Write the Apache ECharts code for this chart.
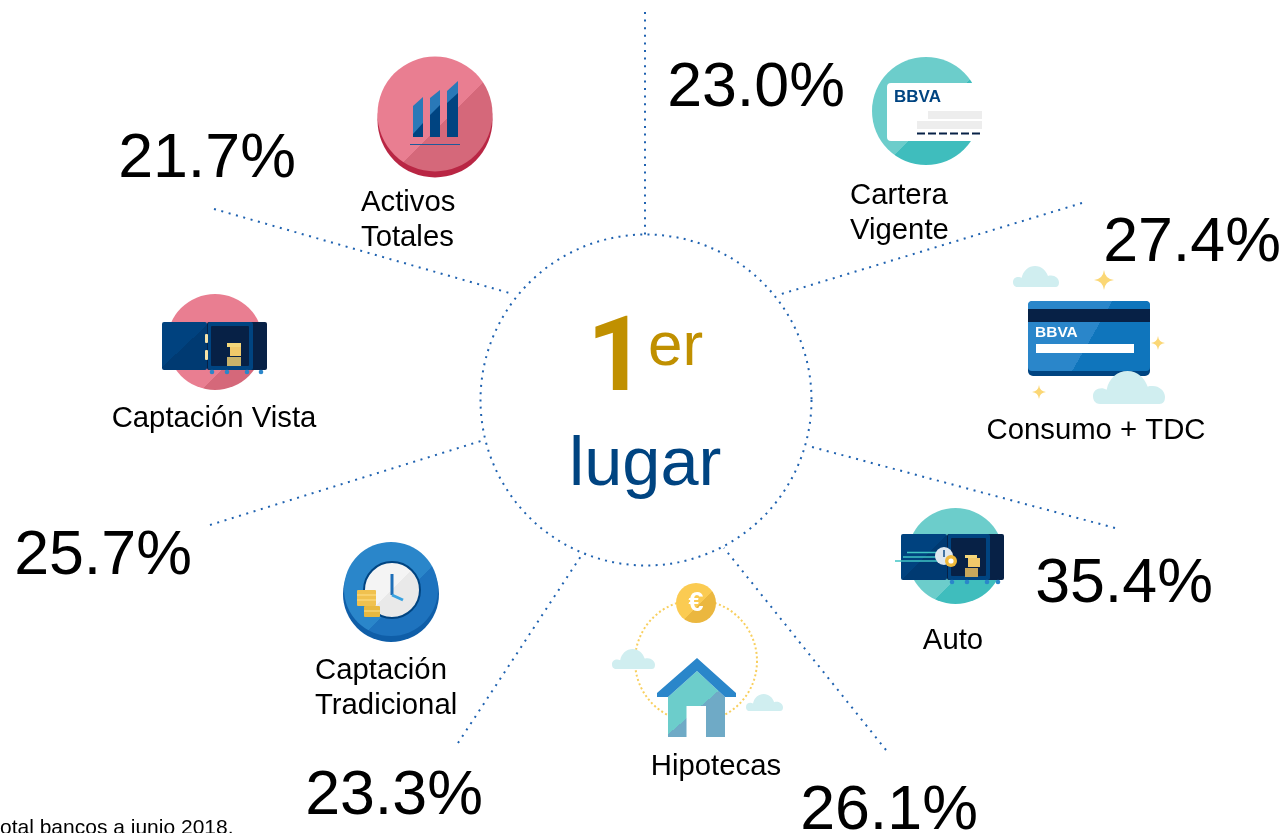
<!DOCTYPE html>
<html>
<head>
<meta charset="utf-8">
<title>1er lugar</title>
<script src="https://cdn.jsdelivr.net/npm/echarts@6/dist/echarts.min.js"></script>
<style>
html, body { margin: 0; padding: 0; background: #fff; overflow: hidden; }
#chart { width: 1288px; height: 833px; }
</style>
</head>
<body>
<div id="chart"></div>
<script>
var categories = ['Activos\nTotales', 'Cartera\nVigente', 'Consumo + TDC', 'Auto', 'Hipotecas', 'Captación\nTradicional', 'Captación Vista'];
var shares = [21.7, 23.0, 27.4, 35.4, 26.1, 23.3, 25.7];
var rank = '1';
var rankSuffix = 'er';
var rankWord = 'lugar';
var footnote = 'otal bancos a junio 2018.';

// layout, pixels
var sharePos = [[207, 160], [756, 89], [1192, 244], [1124, 585], [889, 812], [394, 797], [103, 557]];
var labelPos = [[361, 220], [850, 213], [1096, 431], [953, 641], [716, 767], [315, 688], [214, 419]];
var labelAlign = ['left', 'left', 'center', 'center', 'center', 'left', 'center'];
var rays = [
	[[645, 12], [645, 235]],
	[[1082, 203], [778, 295]],
	[[1115, 528], [812, 447]],
	[[886, 750], [724, 548]],
	[[458, 743], [583, 553]],
	[[210, 525], [484, 440]],
	[[214, 209], [513, 294]]
];

var FONT = '"Liberation Sans", Arial, sans-serif';
var DOT = '#1f62b0';
var NAVY = '#004481', INK = '#072146', BLUE = '#2a86ca', CLOUD_C = '#d0eef0';
var PINK = ['#e97e91', '#d5687a'], TEAL = ['#6ccdcb', '#3fbdbd'];

// graphic has no plain path type, so register the two outlines
echarts.graphic.registerShape('cloud', echarts.graphic.extendPath('M10 46C2 46 0 40 0 35C0 28 5 24 12 24C14 24 17 25 19 26C22 10 34 0 48 0C62 0 72 10 76 22C78 21 80 21 83 21C92 21 100 28 100 36C100 42 98 46 92 46Z', {}));
echarts.graphic.registerShape('star4', echarts.graphic.extendPath('M50 0Q55 45 100 50Q55 55 50 100Q45 55 0 50Q45 45 50 0Z', {}));

// hard diagonal split, light upper left / dark lower right
function split(a, b, t) {
	return { type: 'linear', x: 0, y: 0, x2: 1, y2: 1, colorStops: [
		{ offset: 0, color: a }, { offset: t, color: a }, { offset: t, color: b }, { offset: 1, color: b }
	] };
}
function circle(cx, cy, r, fill) {
	return { type: 'circle', shape: { cx: cx, cy: cy, r: r }, style: { fill: fill } };
}
function rect(x, y, w, h, fill, rad) {
	return { type: 'rect', shape: { x: x, y: y, width: w, height: h, r: rad || 0 }, style: { fill: fill } };
}
function poly(points, fill) {
	return { type: 'polygon', shape: { points: points }, style: { fill: fill } };
}
function line(x1, y1, x2, y2, color, w, dash) {
	return { type: 'line', shape: { x1: x1, y1: y1, x2: x2, y2: y2 }, style: { stroke: color, lineWidth: w, lineDash: dash || null } };
}
function cloud(x, y, w, h) {
	return { type: 'cloud', x: x, y: y, scaleX: w / 100, scaleY: h / 46, style: { fill: CLOUD_C } };
}
function star(x, y, s) {
	return { type: 'star4', x: x - s / 2, y: y - s / 2, scaleX: s / 100, scaleY: s / 100, style: { fill: '#fbd775' } };
}
function text(s, x, y, size, color, weight, align, family) {
	return { type: 'text', x: x, y: y, style: {
		text: s, fontSize: size, fontFamily: family || FONT, fontWeight: weight || 'normal', fill: color,
		textAlign: align || 'left', textVerticalAlign: 'middle'
	} };
}

function vault(x, y, doorW, bodyW, h) {
	var r = x + doorW + bodyW;
	return [
		rect(x, y, doorW, h, split('#00427f', '#003a72', 0.5), 2),
		rect(x + doorW, y, bodyW, h, INK, 2),
		rect(x + doorW + 1, y, bodyW - 15, h, NAVY, 2),
		rect(x + doorW + 4, y + 4, bodyW - 22, h - 8, INK, 1),
		circle(x + doorW + 5, y + h + 2, 2.3, BLUE),
		circle(x + doorW + 20, y + h + 2, 2.3, BLUE),
		circle(x + doorW + 40, y + h + 2, 2.3, BLUE),
		circle(r - 6, y + h + 2, 2.3, BLUE)
	];
}

var art = [].concat(
	// center ring
	[{ type: 'circle', shape: { cx: 646, cy: 400, r: 165.5 }, style: { fill: 'none', stroke: DOT, lineWidth: 2, lineDash: [2, 5.3] } }],

	// Activos Totales
	[
		circle(435, 120, 57.5, '#b92644'),
		circle(435, 114, 57.5, split(PINK[0], PINK[1], 0.57)),
		poly([[413, 106], [423, 97], [423, 137], [413, 137]], '#2a79b8'),
		poly([[413, 134], [423, 123], [423, 137], [413, 137]], NAVY),
		poly([[430, 98], [440, 90], [440, 137], [430, 137]], '#2a79b8'),
		poly([[430, 115], [440, 105], [440, 137], [430, 137]], NAVY),
		poly([[447, 91], [458, 81], [458, 137], [447, 137]], '#2a79b8'),
		poly([[447, 103], [458, 93], [458, 137], [447, 137]], NAVY),
		line(410, 144.5, 460, 144.5, '#1f5a9a', 1)
	],

	// Cartera Vigente
	[
		circle(926, 111, 54, split(TEAL[0], TEAL[1], 0.56)),
		rect(887, 83, 95, 58, '#fff', 4),
		text('BBVA', 894, 97, 17, NAVY, 'bold'),
		rect(928, 111, 54, 8, '#ededed'),
		rect(917, 121, 65, 8, '#ededed'),
		line(917, 133.5, 982, 133.5, INK, 2, [8, 3])
	],

	// Consumo + TDC
	[
		cloud(1013, 266, 46, 21),
		star(1104, 280, 20),
		star(1158, 343, 14),
		star(1039, 392, 14),
		rect(1028, 301, 122, 75, NAVY, 5),
		rect(1028, 301, 122, 70, split(BLUE, '#0f75bc', 0.52), 4),
		rect(1028, 309, 122, 13, INK),
		text('BBVA', 1035, 333, 15.5, '#fff', 'bold'),
		rect(1036, 344, 98, 9, '#fff'),
		cloud(1093, 371, 72, 33)
	],

	// Auto
	[circle(955.5, 556, 48, split(TEAL[0], TEAL[1], 0.62))],
	vault(901, 534, 46, 57, 46),
	[
		line(907, 552.5, 944, 552.5, '#3fc4c4', 1.6),
		line(903, 557, 944, 557, '#3fc4c4', 1.6),
		line(895, 561, 946, 561, '#3fc4c4', 1.6),
		circle(944, 556, 9, '#dfe8ef'),
		line(944, 550, 944, 557, NAVY, 1.4),
		circle(951, 561, 6, '#f0b93a'),
		circle(951, 561, 2.6, '#fff'),
		rect(965, 555, 12, 3, '#f3d77b'),
		rect(968, 558, 12, 9, '#f0c96a'),
		rect(965, 568, 13, 9, '#c8a85c')
	],

	// Hipotecas
	[
		{ type: 'circle', shape: { cx: 696, cy: 661, r: 61 }, style: { fill: 'none', stroke: '#f8cf5e', lineWidth: 2, lineDash: [2, 2.5] } },
		circle(696, 603, 20, split('#fbcb52', '#ebb73f', 0.55)),
		text('€', 696, 604, 27, '#fff', 'bold', 'center'),
		poly([[668, 697], [697, 671], [725, 697], [725, 737], [668, 737]], split('#6ccdcb', '#6faac6', 0.55)),
		rect(686.5, 706, 19.5, 32, '#fff'),
		poly([[697, 658], [736, 693], [736, 697], [725, 697], [697, 671], [668, 697], [657, 697], [657, 693]], BLUE),
		cloud(612, 649, 43, 20),
		cloud(746, 694, 37, 17)
	],

	// Captacion Tradicional
	[
		circle(391, 594, 48, '#0f5ea8'),
		circle(391, 589, 47, split(BLUE, '#1e73be', 0.6)),
		{ type: 'circle', shape: { cx: 392, cy: 590, r: 28 }, style: { fill: split('#f4f4f4', '#e9e9e9', 0.5), stroke: NAVY, lineWidth: 2 } },
		line(392, 574, 392, 595, '#1e6fb8', 3),
		line(392, 595, 403, 600, '#3aa2e0', 3),
		rect(357, 590, 19, 16, '#f0c14f', 1),
		rect(364, 606, 16, 11, '#e8b83f', 1),
		line(357, 595, 376, 595, '#ffe08a', 1),
		line(357, 600, 376, 600, '#ffe08a', 1),
		line(364, 611, 380, 611, '#ffe08a', 1)
	],

	// Captacion Vista
	[circle(215, 342, 48, split(PINK[0], PINK[1], 0.68))],
	vault(162, 322, 45, 60, 48),
	[
		rect(205, 334, 3, 9, '#f5e3a8', 1),
		rect(205, 350, 3, 10, '#f5e3a8', 1),
		rect(227, 343, 14, 4, '#f3d77b'),
		rect(230, 347, 11, 9, '#f0c96a'),
		rect(227, 357, 14, 9, '#c8b26a')
	],

	// center text and footnote
	[
		text(rank, 587, 364, 103, '#c09000', 'bold', 'left', 'Roboto'),
		text(rankSuffix, 648, 348, 62, '#c09000'),
		text(rankWord, 569, 466, 68.5, '#004481'),
		text(footnote, 0, 828, 21, '#000')
	]
);

var series = rays.map(function (r) {
	return {
		type: 'line', data: r, symbol: 'none', silent: true,
		lineStyle: { color: DOT, width: 2, type: [2, 5.6] }
	};
});
series.push({
	type: 'scatter', symbolSize: 0, silent: true,
	itemStyle: { opacity: 1 },
	data: shares.map(function (v, i) { return { value: sharePos[i], share: v }; }),
	label: {
		show: true, position: 'inside', color: '#000', opacity: 1, fontFamily: FONT, fontSize: 62.7,
		formatter: function (p) { return p.data.share.toFixed(1) + '%'; }
	}
});
series.push({
	type: 'scatter', symbolSize: 0, silent: true,
	itemStyle: { opacity: 1 },
	data: categories.map(function (c, i) {
		return { value: labelPos[i], name: c, label: { align: labelAlign[i] } };
	}),
	label: {
		show: true, position: 'inside', color: '#000', opacity: 1, fontFamily: FONT, fontSize: 29.3, lineHeight: 35,
		formatter: function (p) { return p.name; }
	}
});

var chart = echarts.init(document.getElementById('chart'));
chart.setOption({
	backgroundColor: '#fff',
	animation: false,
	grid: { left: 0, right: 0, top: 0, bottom: 0 },
	xAxis: { type: 'value', min: 0, max: 1288, show: false },
	yAxis: { type: 'value', min: 0, max: 833, inverse: true, show: false },
	graphic: { elements: art },
	series: series
});
</script>
</body>
</html>
